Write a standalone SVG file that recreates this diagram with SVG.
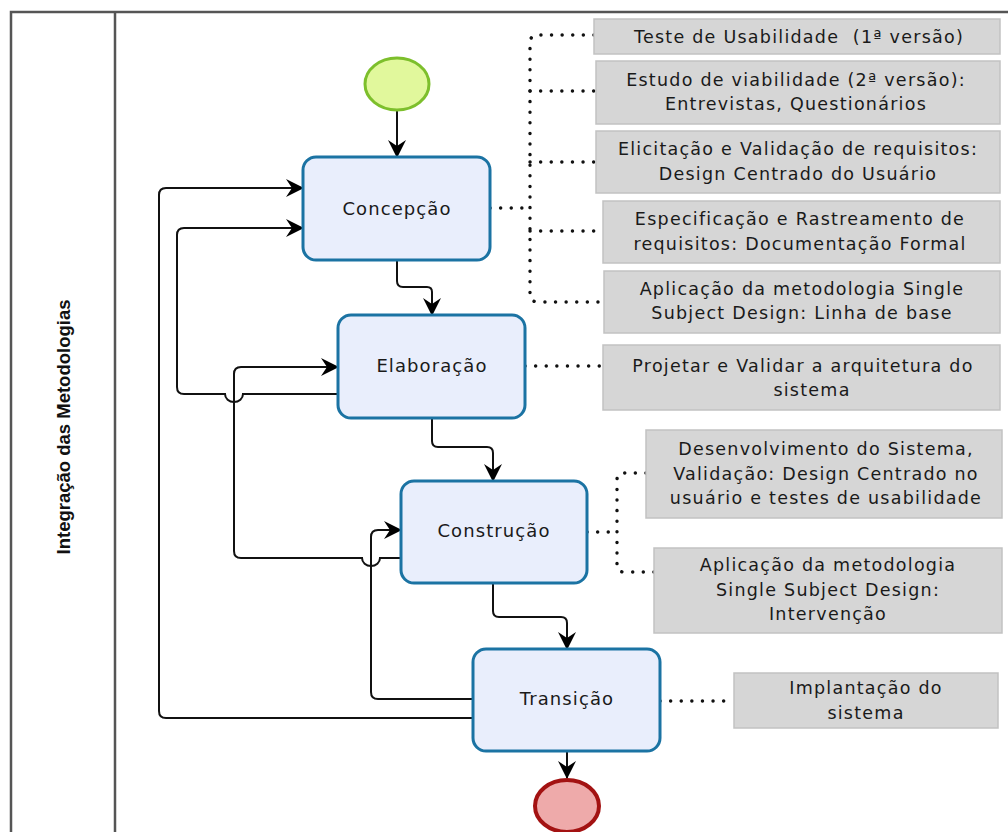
<svg xmlns="http://www.w3.org/2000/svg" width="1008" height="832" viewBox="0 0 1008 832">
  <style>
    .frame { fill: none; stroke: #555; stroke-width: 2.5; }
    .task rect { fill: #e9eefc; stroke: #1b73a3; stroke-width: 3; }
    .task text { font-family: "DejaVu Sans", Verdana, sans-serif; font-size: 18px; letter-spacing: 1.1px; fill: #1a1a1a; text-anchor: middle; }
    .note rect { fill: #d6d6d6; stroke: #c2c2c2; stroke-width: 1.5; }
    .note text { font-family: "DejaVu Sans", Verdana, sans-serif; font-size: 17.5px; letter-spacing: 1.25px; fill: #1a1a1a; text-anchor: middle; }
    .flow { fill: none; stroke: #111; stroke-width: 2; }
    .assoc { fill: none; stroke: #111; stroke-width: 3.4; stroke-dasharray: 0.1 10.5; stroke-linecap: round; }
    .lane { font-family: "Liberation Sans", Arial, sans-serif; font-size: 18.5px; font-weight: bold; fill: #111; text-anchor: middle; }
  </style>
  <defs>
    <marker id="arrow" viewBox="0 0 18 20" refX="17" refY="10" markerWidth="18" markerHeight="20" markerUnits="userSpaceOnUse" orient="auto">
      <path d="M0,1 L18,10 L0,19 L6,10 z" fill="#000"/>
    </marker>
  </defs>

  <!-- pool and lane frame -->
  <g id="pool">
    <rect class="frame" x="11" y="12" width="1010" height="840"/>
    <line class="frame" x1="115" y1="12" x2="115" y2="840"/>
    <text class="lane" transform="translate(70,427) rotate(-90)">Integração das Metodologias</text>
  </g>

  <!-- sequence flows and associations -->
  <g id="connectors">
    <path class="flow" marker-end="url(#arrow)" d="M397,111 V157"/>
    <path class="flow" marker-end="url(#arrow)" d="M397,260 V281 Q397,287 403,287 H427 Q432,287 432,292 V315"/>
    <path class="flow" marker-end="url(#arrow)" d="M432,418 V441 Q432,447 438,447 H487 Q493,447 493,453 V481"/>
    <path class="flow" marker-end="url(#arrow)" d="M493,583 V611 Q493,617 499,617 H561 Q567,617 567,623 V649"/>
    <path class="flow" marker-end="url(#arrow)" d="M567,751 V778"/>

    <!-- loop-backs -->
    <path class="flow" marker-end="url(#arrow)" d="M473,718 H166 Q159,718 159,711 V195 Q159,188 166,188 H303"/>
    <path class="flow" marker-end="url(#arrow)" d="M338,394 H243 A9,8 0 0 1 225,394 H184 Q177,394 177,387 V235 Q177,228 184,228 H303"/>
    <path class="flow" marker-end="url(#arrow)" d="M401,558 H380 A9,8 0 0 1 362,558 H241 Q234,558 234,551 V374 Q234,367 241,367 H338"/>
    <path class="flow" marker-end="url(#arrow)" d="M473,699 H378 Q371,699 371,692 V537 Q371,530 378,530 H401"/>

    <!-- associations to annotations -->
    <path class="assoc" d="M490,208 H530"/>
    <path class="assoc" d="M594,35 H538 Q530,35 530,43 V294 Q530,302 538,302 H604"/>
    <path class="assoc" d="M530,91 H596"/>
    <path class="assoc" d="M530,162 H596"/>
    <path class="assoc" d="M530,231 H603"/>
    <path class="assoc" d="M525,366 H603"/>
    <path class="assoc" d="M587,532 H617"/>
    <path class="assoc" d="M646,473 H624 Q617,473 617,480 V565 Q617,572 624,572 H654"/>
    <path class="assoc" d="M660,701 H734"/>
  </g>

  <!-- events -->
  <g id="start">
    <ellipse cx="397" cy="84" rx="32" ry="26" fill="#e1f89c" stroke="#7dbf2c" stroke-width="3"/>
  </g>
  <g id="end">
    <ellipse cx="567" cy="806" rx="32" ry="26" fill="#eeaaaa" stroke="#a31212" stroke-width="4"/>
  </g>

  <!-- tasks -->
  <g id="concepcao" class="task">
    <rect x="303" y="157" width="187" height="103" rx="13"/>
    <text x="397" y="215">Concepção</text>
  </g>
  <g id="elaboracao" class="task">
    <rect x="338" y="315" width="187" height="103" rx="13"/>
    <text x="432" y="372">Elaboração</text>
  </g>
  <g id="construcao" class="task">
    <rect x="401" y="481" width="186" height="102" rx="13"/>
    <text x="494" y="537">Construção</text>
  </g>
  <g id="transicao" class="task">
    <rect x="473" y="649" width="187" height="102" rx="13"/>
    <text x="567" y="705">Transição</text>
  </g>

  <!-- annotations -->
  <g id="note-usabilidade" class="note">
    <rect x="594" y="19" width="406" height="35"/>
    <text x="799" y="43" xml:space="preserve">Teste de Usabilidade  (1ª versão)</text>
  </g>
  <g id="note-viabilidade" class="note">
    <rect x="596" y="61" width="404" height="63"/>
    <text x="796" y="86">Estudo de viabilidade (2ª versão):</text>
    <text x="796" y="110">Entrevistas, Questionários</text>
  </g>
  <g id="note-elicitacao" class="note">
    <rect x="596" y="131" width="404" height="62"/>
    <text x="798" y="155">Elicitação e Validação de requisitos:</text>
    <text x="798" y="180">Design Centrado do Usuário</text>
  </g>
  <g id="note-especificacao" class="note">
    <rect x="603" y="201" width="397" height="62"/>
    <text x="800" y="225">Especificação e Rastreamento de</text>
    <text x="800" y="250">requisitos: Documentação Formal</text>
  </g>
  <g id="note-linha-base" class="note">
    <rect x="604" y="271" width="396" height="62"/>
    <text x="802" y="295">Aplicação da metodologia Single</text>
    <text x="802" y="319">Subject Design: Linha de base</text>
  </g>
  <g id="note-arquitetura" class="note">
    <rect x="603" y="345" width="397" height="65"/>
    <text x="803" y="372">Projetar e Validar a arquitetura do</text>
    <text x="812" y="396">sistema</text>
  </g>
  <g id="note-desenvolvimento" class="note">
    <rect x="646" y="430" width="356" height="88"/>
    <text x="826" y="455">Desenvolvimento do Sistema,</text>
    <text x="826" y="480">Validação: Design Centrado no</text>
    <text x="826" y="504">usuário e testes de usabilidade</text>
  </g>
  <g id="note-intervencao" class="note">
    <rect x="654" y="548" width="348" height="85"/>
    <text x="828" y="571">Aplicação da metodologia</text>
    <text x="828" y="596">Single Subject Design:</text>
    <text x="828" y="620">Intervenção</text>
  </g>
  <g id="note-implantacao" class="note">
    <rect x="734" y="673" width="264" height="55"/>
    <text x="866" y="694">Implantação do</text>
    <text x="866" y="719">sistema</text>
  </g>
</svg>
